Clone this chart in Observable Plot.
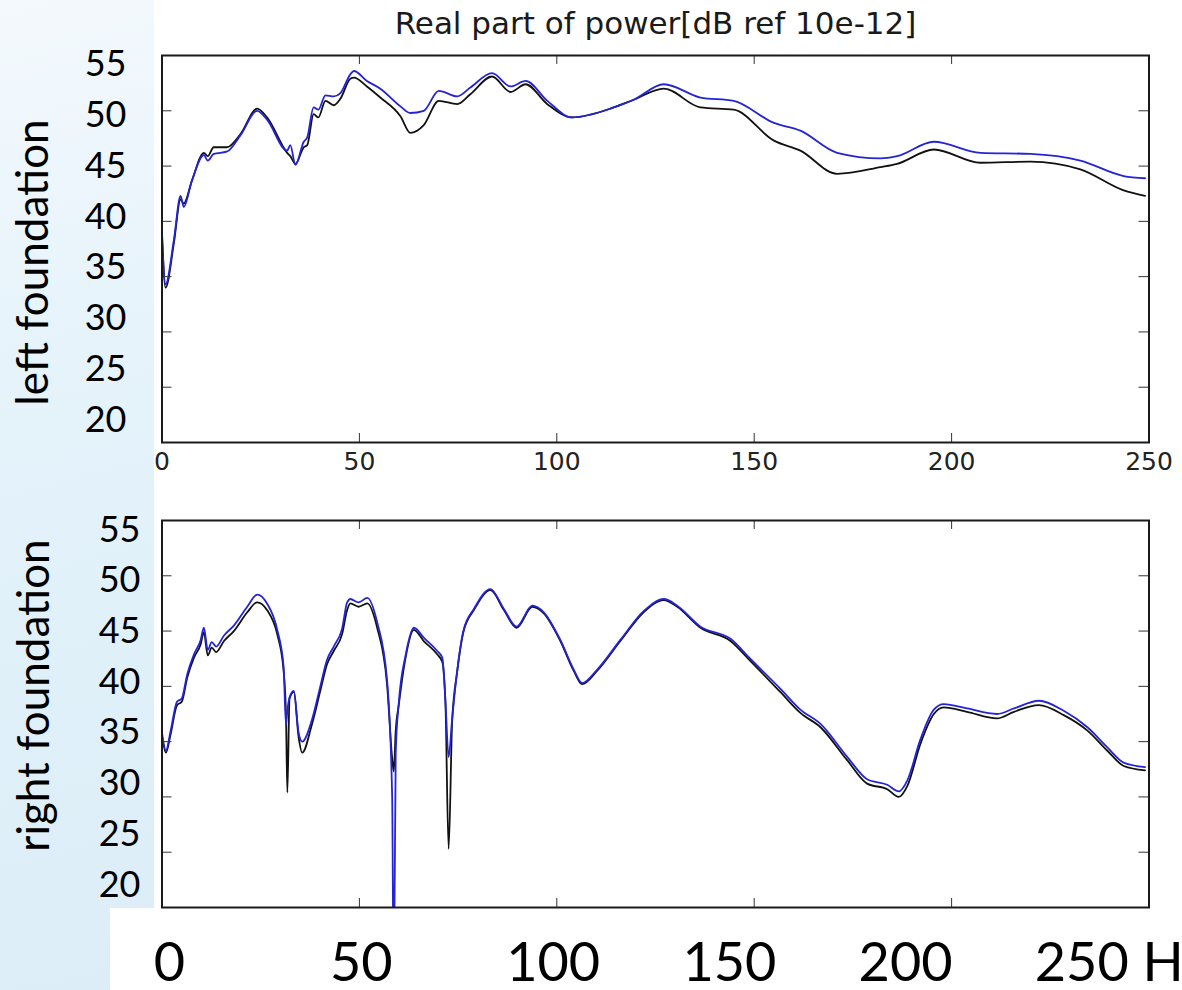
<!DOCTYPE html>
<html>
<head>
<meta charset="utf-8">
<script src="https://cdn.jsdelivr.net/npm/d3@7"></script>
<script src="https://cdn.jsdelivr.net/npm/@observablehq/plot@0.6"></script>
<style>
  html, body { margin: 0; padding: 0; background: #fff; }
  #fig { position: relative; width: 1182px; height: 990px; overflow: hidden; background: #fff; }
  #blue {
    position: absolute; left: 0; top: 0; width: 154px; height: 990px;
    background: linear-gradient(165deg, #f4f9fd 0%, #e6f3fb 35%, #dff0f9 70%, #dcedf8 100%);
    clip-path: polygon(0 0, 154px 0, 154px 908px, 110px 908px, 110px 990px, 0 990px);
  }
</style>
</head>
<body>
<div id="fig"><div id="blue"></div></div>
<script>
// ---------- texts ----------
const titleText = "Real part of power[dB ref 10e-12]";
const panelNames = ["left foundation", "right foundation"];
const xTicks = [0, 50, 100, 150, 200, 250];
const yTicks = [20, 25, 30, 35, 40, 45, 50, 55];
const slideXLabels = ["0", "50", "100", "150", "200", "250 Hz"];

// ---------- left foundation (top panel) ----------
const leftFreq  = [0,0.9,3,4.7,5.5,7.6,10.6,11.6,13.1,16.4,19.9,24.1,26.6,31.7,32.5,33.8,35.9,36.8,38.4,39.6,41.4,43.5,45.2,47.7,48.6,51.9,55.3,60.4,62.9,66.3,70.1,74.8,78.1,83.6,88.3,92.1,97.6,103.9,114.4,119.5,127.1,136.4,144.8,155,161.7,171,182,186.2,195.5,207.3,220,232.6,243.6,249];
const leftBlack = [39.0,34.0,38.0,42.0,41.6,43.7,46.2,45.9,46.7,46.7,47.9,50.2,49.4,46.2,45.9,45.2,46.7,46.9,49.7,49.4,50.9,50.5,51.1,52.9,53.0,52.2,51.2,49.5,48.0,48.7,50.9,50.6,51.5,53.1,51.7,52.4,50.6,49.4,50.3,51.0,52.0,50.3,50.1,47.3,46.4,44.3,44.9,45.2,46.5,45.3,45.4,44.7,42.8,42.3];
const leftBlue  = [38.5,34.3,38.3,42.3,41.3,43.7,46.0,45.5,46.1,46.3,47.8,50.0,49.2,46.4,46.9,45.1,47.2,47.6,50.3,50.1,51.4,51.3,51.6,53.3,53.6,52.7,52.0,50.4,49.8,50.0,51.8,51.3,52.1,53.4,52.2,52.7,50.9,49.4,50.3,51.0,52.4,51.2,50.9,48.9,48.2,46.2,45.7,45.9,47.2,46.2,46.1,45.5,44.1,43.9];

// ---------- right foundation (bottom panel) ----------
const rightFreq  = [0,1,2.2,3.8,5,6.4,8.1,9.8,10.6,11.6,12.6,13.7,15.7,18.2,21.6,24.1,26.6,29.2,30.8,31.4,31.75,32.3,33.4,34.6,35.5,38,40.1,41.8,43.5,45.6,46.9,47.7,49.8,52,54.5,57,58.3,58.7,59.2,60,61.7,63.8,66.3,69.7,71,71.8,72.6,73.5,74.8,76.4,79,83.2,86.6,89.8,93.8,96.7,100.9,104.3,106.4,110.2,116.1,122,127.1,130.5,136.4,144,149,156.6,161.7,166.8,173.6,178.6,183.7,186.6,188.8,192.1,195.5,198,203.9,211.5,215.8,222.1,228.4,234.4,239.4,243.6,249];
const rightBlack = [35.5,34.0,35.7,38.3,38.6,40.8,42.6,43.8,44.9,42.8,43.5,43.1,44.1,45.0,46.7,47.6,46.9,44.7,41.4,37.5,30.4,38.9,39.5,35.4,34.0,36.6,39.6,42.0,43.2,44.7,46.9,47.5,47.2,47.5,45.3,40.2,33.5,32.3,36.0,38.4,42.6,45.1,44.1,42.9,42.2,38.4,25.3,36.9,41.4,45.0,46.9,48.7,46.9,45.3,47.2,46.6,44.1,41.4,40.2,41.4,44.1,46.7,47.8,47.2,45.3,44.1,42.3,39.5,37.6,36.3,33.3,31.2,30.7,30.0,31.0,34.8,37.5,38.1,37.7,37.1,37.7,38.3,37.4,36.0,34.2,32.8,32.4];
const rightBlue  = [35.8,34.2,36.0,38.6,38.9,41.1,42.9,44.2,45.3,43.3,44.0,43.6,44.6,45.5,47.2,48.3,47.5,45.1,41.8,36.5,37.8,39.0,39.6,35.8,35.0,37.0,40.0,42.4,43.6,45.2,47.6,47.9,47.6,48.0,45.8,40.6,30.0,12.0,34.0,38.6,42.8,45.3,44.4,43.2,42.6,38.6,33.6,37.1,41.5,45.1,47.0,48.8,47.0,45.4,47.3,46.7,44.2,41.5,40.3,41.5,44.2,46.8,47.9,47.3,45.4,44.3,42.5,39.8,37.9,36.6,33.6,31.6,31.1,30.5,31.5,35.2,37.9,38.4,38.0,37.5,38.0,38.7,37.8,36.3,34.5,33.1,32.7];

const leftRows = leftFreq.map((f, i) => ({f, black: leftBlack[i], blue: leftBlue[i]}));
const rightRows = rightFreq.map((f, i) => ({f, black: rightBlack[i], blue: rightBlue[i]}));

const W = 1182, H = 990;
const plotLeft = 161.5, plotRight = 1148.5;
const overlay = {position: "absolute", left: "0px", top: "0px", background: "transparent", overflow: "visible", color: "#222"};
const mplFont = "DejaVu Sans";
const slideFont = "Lato";

function panel(rows, top, bottom, withAxis) {
  const innerH = bottom - top, innerW = plotRight - plotLeft;
  const marks = [
    Plot.line(rows, {x: "f", y: "black", stroke: "#111111", strokeWidth: 1.8, curve: "monotone-x", clip: true}),
    Plot.line(rows, {x: "f", y: "blue", stroke: "#2424d6", strokeWidth: 1.8, curve: "monotone-x", clip: true}),
    Plot.tickX(xTicks.slice(1, -1), {x: d => d, stroke: "#333", strokeWidth: 1, insetTop: innerH - 9}),
    Plot.tickX(xTicks.slice(1, -1), {x: d => d, stroke: "#333", strokeWidth: 1, insetBottom: innerH - 9}),
    Plot.tickY(yTicks.slice(1, -1), {y: d => d, stroke: "#333", strokeWidth: 1, insetRight: innerW - 10}),
    Plot.tickY(yTicks.slice(1, -1), {y: d => d, stroke: "#333", strokeWidth: 1, insetLeft: innerW - 10}),
    Plot.frame({stroke: "#1a1a1a", strokeWidth: 2})
  ];
  if (withAxis) {
    marks.push(Plot.axisX({ticks: xTicks, tickSize: 0, tickPadding: 10, fontSize: 25, label: null, fill: "#222"}));
    marks.push(Plot.text([titleText], {frameAnchor: "top", lineAnchor: "middle", dy: -31, fontSize: 31, fill: "#1a1a1a"}));
  }
  return Plot.plot({
    width: W, height: H,
    marginLeft: plotLeft, marginRight: W - plotRight,
    marginTop: top, marginBottom: H - bottom,
    style: {...overlay, fontFamily: mplFont},
    x: {domain: [0, 250], axis: null},
    y: {domain: [20, 55], axis: null},
    marks
  });
}

function labelColumn(top, bottom, right, name, dx, dy) {
  return Plot.plot({
    width: 170, height: H,
    marginLeft: right + 4, marginRight: 0,
    marginTop: top, marginBottom: H - bottom,
    style: {...overlay, fontFamily: slideFont, color: "#000"},
    y: {domain: [20, 55], axis: null},
    marks: [
      Plot.axisY({ticks: yTicks, tickSize: 0, tickPadding: 4, fontSize: 36, label: null, fill: "#000"}),
      Plot.text([name], {frameAnchor: "left", textAnchor: "middle", lineAnchor: "middle", rotate: -90, dx, dy, fontSize: 44, fill: "#000"})
    ]
  });
}

const slideAxis = Plot.plot({
  width: W, height: H,
  marginLeft: 153.3, marginRight: W - 1034.3,
  marginTop: 900, marginBottom: 51,
  style: {...overlay, fontFamily: slideFont, color: "#000"},
  x: {domain: [0, 250], axis: null},
  marks: [
    Plot.axisX({ticks: xTicks, tickFormat: d => slideXLabels[xTicks.indexOf(d)], tickSize: 0, tickPadding: 3,
                textAnchor: "start", fontSize: 54, label: null, fill: "#000"})
  ]
});

const fig = document.getElementById("fig");
fig.append(panel(leftRows, 55, 442, true));
fig.append(panel(rightRows, 520, 907, false));
fig.append(labelColumn(64, 420, 126, panelNames[0], 33 - 130, 262 - 242));
fig.append(labelColumn(529.5, 884.5, 140, panelNames[1], 34 - 144, 695 - 707));
fig.append(slideAxis);
</script>
</body>
</html>
